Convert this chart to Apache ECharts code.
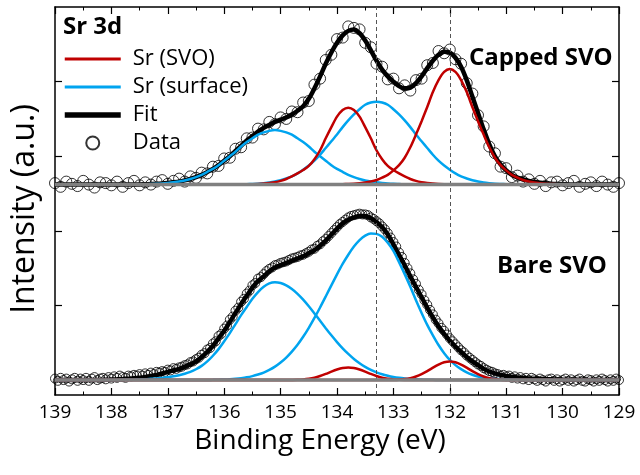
<!DOCTYPE html>
<html>
<head>
<meta charset="utf-8">
<script src="https://cdn.jsdelivr.net/npm/echarts@6/dist/echarts.min.js"></script>
<style>
  html, body { margin: 0; padding: 0; background: #fff; }
  #chart { width: 640px; height: 475px; }
</style>
</head>
<body>
<div id="chart"></div>
<script>
// Sr 3d XPS, capped vs bare SVO. Energies run 139 -> 129 eV.
const energyStart = 139;
const energyEnd = 129;
const curveStep = 0.1;      // fit + component curves
const cappedDataStep = 0.1;
const bareDataStep = 0.05;

// vertical offset of each spectrum (its grey background line)
const spectrumOffsets = [2.62, 0]; // capped, bare
const dashedEnergies = [133.3, 132.0];
const yTickValues = [0, 1, 2, 3, 4];

// ---- Capped SVO ----
const cappedSurface32 = [
  0,0,0,0,0,0,0,0,0,0,
  0,0,0,0,0.001,0.002,0.004,0.007,0.01,0.015,
  0.022,0.03,0.04,0.055,0.075,0.1,0.13,0.17,0.21,0.26,
  0.32,0.38,0.44,0.51,0.57,0.62,0.67,0.7,0.72,0.73,
  0.72,0.7,0.67,0.62,0.57,0.51,0.44,0.38,0.32,0.26,
  0.21,0.17,0.13,0.1,0.075,0.055,0.04,0.03,0.022,0.015,
  0.01,0.007,0.004,0.002,0.001,0,0,0,0,0,
  0,0,0,0,0,0,0,0,0,0,
  0,0,0,0,0,0,0,0,0,0,
  0,0,0,0,0,0,0,0,0,0,
  0
];
const cappedSurface52 = [
  0,0,0,0,0,0,0,0,0,0,
  0,0,0,0,0,0,0,0,0,0,
  0,0,0,0,0,0,0,0,0,0,
  0,0.001,0.002,0.003,0.005,0.008,0.012,0.019,0.028,0.041,
  0.058,0.082,0.11,0.15,0.2,0.255,0.32,0.4,0.49,0.58,
  0.67,0.77,0.86,0.94,1.01,1.07,1.1,1.11,1.1,1.07,
  1.01,0.94,0.86,0.77,0.67,0.58,0.49,0.4,0.32,0.255,
  0.2,0.15,0.11,0.082,0.058,0.041,0.028,0.019,0.012,0.008,
  0.005,0.003,0.002,0.001,0,0,0,0,0,0,
  0,0,0,0,0,0,0,0,0,0,
  0
];
const cappedSvo32 = [
  0,0,0,0,0,0,0,0,0,0,
  0,0,0,0,0,0,0,0,0,0,
  0,0,0,0,0,0,0,0,0,0,
  0,0,0.001,0.002,0.004,0.006,0.009,0.014,0.022,0.033,
  0.05,0.075,0.11,0.15,0.195,0.25,0.34,0.46,0.62,0.77,
  0.91,1.0,1.03,1.0,0.91,0.77,0.62,0.46,0.34,0.25,
  0.195,0.15,0.11,0.075,0.05,0.033,0.022,0.014,0.009,0.006,
  0.004,0.002,0.001,0,0,0,0,0,0,0,
  0,0,0,0,0,0,0,0,0,0,
  0,0,0,0,0,0,0,0,0,0,
  0
];
const cappedSvo52 = [
  0,0,0,0,0,0,0,0,0,0,
  0,0,0,0,0,0,0,0,0,0,
  0,0,0,0,0,0,0,0,0,0,
  0,0,0,0,0,0,0,0,0,0,
  0,0,0,0,0,0,0,0,0.001,0.002,
  0.003,0.005,0.008,0.012,0.019,0.028,0.042,0.062,0.093,0.13,
  0.19,0.26,0.36,0.5,0.67,0.85,1.04,1.24,1.4,1.51,
  1.55,1.51,1.4,1.24,1.04,0.85,0.67,0.5,0.36,0.26,
  0.19,0.13,0.093,0.062,0.042,0.028,0.019,0.012,0.008,0.005,
  0.003,0.002,0.001,0,0,0,0,0,0,0,
  0
];
const cappedFit = [
  0,0,0,0,0,0,0,0,0,0,
  0,0,0,0,0.001,0.002,0.004,0.007,0.01,0.015,
  0.022,0.03,0.04,0.056,0.076,0.1,0.13,0.17,0.21,0.26,
  0.32,0.38,0.45,0.52,0.59,0.65,0.71,0.76,0.8,0.84,
  0.87,0.9,0.94,0.99,1.05,1.15,1.29,1.45,1.62,1.77,
  1.9,2.0,2.06,2.08,2.03,1.93,1.8,1.66,1.54,1.45,
  1.38,1.32,1.29,1.3,1.36,1.45,1.56,1.66,1.74,1.78,
  1.77,1.7,1.58,1.4,1.18,0.96,0.74,0.54,0.38,0.27,
  0.19,0.13,0.095,0.068,0.05,0.036,0.026,0.018,0.012,0.008,
  0.005,0.003,0.002,0.001,0,0,0,0,0,0,
  0
];
const cappedData = [
  0.02,-0.03,0.04,0.01,-0.02,0.05,0,-0.04,0.03,0.02,
  -0.01,0.04,-0.03,0.02,0.05,-0.01,0.03,0,0.04,0.06,
  0.01,0.05,0.08,0.04,0.11,0.09,0.16,0.15,0.24,0.25,
  0.35,0.36,0.48,0.5,0.62,0.63,0.75,0.74,0.84,0.81,
  0.9,0.88,0.98,0.97,1.1,1.12,1.34,1.42,1.67,1.74,
  1.95,1.97,2.12,2.1,2.08,1.9,1.84,1.62,1.58,1.41,
  1.42,1.29,1.33,1.26,1.4,1.42,1.6,1.63,1.79,1.76,
  1.81,1.68,1.62,1.36,1.22,0.93,0.78,0.51,0.42,0.24,
  0.22,0.1,0.12,0.04,0.07,0.01,0.05,-0.02,0.03,0.04,
  -0.01,0.02,0.05,-0.03,0.01,0.03,-0.02,0.04,0,-0.03,
  0.02
];

// ---- Bare SVO ----
const bareSurface32 = [
  0,0,0,0,0,0,0,0,0,0,
  0.001,0.002,0.003,0.004,0.006,0.009,0.012,0.017,0.022,0.029,
  0.038,0.05,0.065,0.085,0.11,0.145,0.19,0.25,0.326,0.415,
  0.52,0.63,0.75,0.87,0.98,1.09,1.18,1.25,1.295,1.31,
  1.3,1.27,1.22,1.156,1.078,0.989,0.893,0.795,0.696,0.6,
  0.509,0.425,0.35,0.283,0.226,0.177,0.137,0.104,0.078,0.058,
  0.042,0.03,0.021,0.015,0.01,0.007,0.004,0.003,0.002,0.001,
  0,0,0,0,0,0,0,0,0,0,
  0,0,0,0,0,0,0,0,0,0,
  0,0,0,0,0,0,0,0,0,0,
  0
];
const bareSurface52 = [
  0,0,0,0,0,0,0,0,0,0,
  0,0,0,0,0,0,0,0,0,0,
  0,0,0,0,0,0,0.001,0.002,0.003,0.005,
  0.008,0.012,0.018,0.026,0.037,0.053,0.074,0.1,0.136,0.18,
  0.235,0.302,0.382,0.474,0.58,0.7,0.833,0.973,1.12,1.27,
  1.416,1.556,1.68,1.79,1.876,1.936,1.966,1.96,1.92,1.84,
  1.73,1.58,1.42,1.25,1.07,0.9,0.74,0.6,0.47,0.36,
  0.27,0.2,0.147,0.104,0.072,0.048,0.032,0.025,0.018,0.012,
  0.008,0.005,0.003,0.002,0.001,0,0,0,0,0,
  0,0,0,0,0,0,0,0,0,0,
  0
];
const bareSvo32 = [
  0,0,0,0,0,0,0,0,0,0,
  0,0,0,0,0,0,0,0,0,0,
  0,0,0,0,0,0,0,0,0,0,
  0,0,0,0,0,0,0,0,0,0,
  0,0.001,0.002,0.004,0.009,0.018,0.032,0.054,0.082,0.113,
  0.141,0.162,0.17,0.162,0.141,0.113,0.082,0.054,0.032,0.018,
  0.009,0.004,0.002,0.001,0,0,0,0,0,0,
  0,0,0,0,0,0,0,0,0,0,
  0,0,0,0,0,0,0,0,0,0,
  0,0,0,0,0,0,0,0,0,0,
  0
];
const bareSvo52 = [
  0,0,0,0,0,0,0,0,0,0,
  0,0,0,0,0,0,0,0,0,0,
  0,0,0,0,0,0,0,0,0,0,
  0,0,0,0,0,0,0,0,0,0,
  0,0,0,0,0,0,0,0,0,0,
  0,0,0,0,0,0,0,0,0,0.001,
  0.0025,0.006,0.013,0.026,0.048,0.079,0.12,0.166,0.208,0.239,
  0.25,0.239,0.208,0.166,0.12,0.079,0.048,0.026,0.013,0.006,
  0.0025,0.001,0,0,0,0,0,0,0,0,
  0,0,0,0,0,0,0,0,0,0,
  0
];
const bareFit = [
  0,0,0,0,0,0,0,0,0.002,0.004,
  0.007,0.01,0.014,0.019,0.025,0.033,0.043,0.055,0.07,0.088,
  0.11,0.13,0.15,0.18,0.21,0.25,0.31,0.38,0.46,0.56,
  0.66,0.78,0.9,1.02,1.13,1.24,1.33,1.39,1.46,1.51,
  1.54,1.57,1.6,1.63,1.66,1.7,1.74,1.8,1.87,1.95,
  2.03,2.1,2.15,2.18,2.2,2.2,2.17,2.12,2.05,1.95,
  1.82,1.68,1.54,1.39,1.25,1.11,0.97,0.84,0.72,0.62,
  0.53,0.45,0.38,0.31,0.25,0.2,0.15,0.115,0.09,0.07,
  0.055,0.045,0.035,0.028,0.022,0.018,0.015,0.012,0.01,0.008,
  0.006,0.005,0.004,0.003,0.003,0.002,0.002,0.001,0.001,0,
  0
];
const bareData = [
  0.02,-0.01,0.03,0,0.02,-0.02,0.01,0.03,-0.01,0.02,
  0,0.03,-0.01,0.02,0.04,0,0.02,0.03,0.01,0.04,
  0.02,0.05,0.03,0.06,0.04,0.03,0.06,0.05,0.07,0.06,
  0.08,0.06,0.09,0.07,0.1,0.08,0.11,0.1,0.12,0.11,
  0.14,0.13,0.16,0.15,0.17,0.18,0.2,0.21,0.24,0.25,
  0.28,0.3,0.34,0.36,0.41,0.43,0.49,0.52,0.59,0.62,
  0.69,0.73,0.81,0.85,0.93,0.97,1.05,1.09,1.16,1.2,
  1.27,1.3,1.36,1.38,1.42,1.46,1.49,1.51,1.54,1.55,
  1.57,1.58,1.59,1.61,1.63,1.64,1.65,1.67,1.68,1.7,
  1.72,1.75,1.76,1.8,1.82,1.86,1.89,1.93,1.97,2.01,
  2.05,2.09,2.12,2.15,2.18,2.2,2.21,2.22,2.23,2.22,
  2.22,2.21,2.18,2.16,2.13,2.1,2.06,2.02,1.97,1.91,
  1.85,1.79,1.71,1.65,1.57,1.5,1.43,1.35,1.29,1.21,
  1.15,1.07,1.01,0.94,0.88,0.81,0.76,0.7,0.66,0.61,
  0.56,0.52,0.48,0.44,0.4,0.37,0.33,0.3,0.27,0.24,
  0.21,0.19,0.16,0.14,0.12,0.11,0.09,0.08,0.06,0.07,
  0.05,0.06,0.03,0.05,0.02,0.04,0.01,0.03,0,0.03,
  0.01,-0.01,0.02,0,-0.02,0.01,0.02,-0.01,0.01,-0.02,
  0,0.02,-0.01,0.01,-0.02,0,0.02,-0.01,-0.02,0.01,
  0,-0.02,0.01,-0.01,0.02,0,-0.02,0.01,-0.01,0.02,
  0
];

const FONT = "'Open Sans', 'Noto Sans', sans-serif";
const RED = '#c00000';
const BLUE = '#00a4ef';
const GRAY = '#808080';

const [cappedOffset, bareOffset] = spectrumOffsets;

// turn a list of intensities into [energy, intensity] pairs
function toPairs(values, step, offset) {
  return values.map((v, i) => [+(energyStart - i * step).toFixed(3), v + offset]);
}

function curve(name, values, offset, color, width, z) {
  return {
    type: 'line',
    name: name,
    data: toPairs(values, curveStep, offset),
    symbol: 'none',
    smooth: 0.3,
    lineStyle: { color: color, width: width },
    itemStyle: { color: color },
    z: z,
    silent: true,
  };
}

function dataSeries(values, step, offset, size) {
  return {
    type: 'scatter',
    name: 'Data',
    data: toPairs(values, step, offset),
    symbol: 'circle',
    symbolSize: size,
    itemStyle: { color: 'rgba(0,0,0,0)', borderColor: '#000', borderWidth: 1 },
    z: 1,
    silent: true,
  };
}

function baseline(offset) {
  return {
    type: 'line',
    name: 'background',
    data: [[energyStart, offset], [energyEnd, offset]],
    symbol: 'none',
    lineStyle: { color: GRAY, width: 3.5 },
    z: 6,
    silent: true,
  };
}

const tickStyle = { inside: true, length: 7, lineStyle: { color: '#000', width: 1.2 } };
const lineStyleAxis = { show: true, onZero: false, lineStyle: { color: '#000', width: 1.5 } };
// line entries in the legend: show the stroke only, no marker dot
const noDot = { color: 'rgba(0,0,0,0)', borderWidth: 0 };

const option = {
  animation: false,
  backgroundColor: '#fff',
  textStyle: { fontFamily: FONT },
  grid: { left: 55, right: 21, top: 7, bottom: 80 },
  title: {
    text: 'Sr 3d',
    left: 63, top: 15, padding: 0,
    textStyle: { fontFamily: FONT, fontSize: 24, fontWeight: 'bold', color: '#000' },
  },
  legend: {
    data: [
      { name: 'Sr (SVO)', itemStyle: noDot, lineStyle: { width: 3 } },
      { name: 'Sr (surface)', itemStyle: noDot, lineStyle: { width: 3 } },
      { name: 'Fit', itemStyle: noDot, lineStyle: { width: 5.5 } },
      { name: 'Data' },
    ],
    orient: 'vertical',
    left: 62, top: 48, padding: 0,
    itemWidth: 56, itemHeight: 13, itemGap: 6,
    selectedMode: false,
    textStyle: { fontFamily: FONT, fontSize: 22, color: '#000', padding: [0, 0, 0, 7] },
  },
  xAxis: [
    {
      type: 'value', position: 'bottom',
      min: energyEnd, max: energyStart, interval: 1, inverse: true,
      axisLine: lineStyleAxis,
      axisTick: tickStyle,
      minorTick: { show: true, splitNumber: 2, length: 3.5, lineStyle: { color: '#000', width: 1 } },
      axisLabel: { fontFamily: FONT, fontSize: 19, color: '#000', margin: 8 },
      splitLine: { show: false },
      name: 'Binding Energy (eV)', nameLocation: 'middle', nameGap: 29,
      nameTextStyle: { fontFamily: FONT, fontSize: 28, color: '#000', padding: [0, 34, 0, 0] },
    },
    {
      type: 'value', position: 'top',
      min: energyEnd, max: energyStart, interval: 1, inverse: true,
      axisLine: lineStyleAxis,
      axisTick: tickStyle,
      minorTick: { show: true, splitNumber: 2, length: 3.5, lineStyle: { color: '#000', width: 1 } },
      axisLabel: { show: false },
      splitLine: { show: false },
    },
  ],
  yAxis: [
    {
      type: 'value', position: 'left', min: -0.2, max: 5,
      axisLine: lineStyleAxis,
      axisTick: Object.assign({ customValues: yTickValues }, tickStyle),
      axisLabel: { show: false },
      splitLine: { show: false },
      name: 'Intensity (a.u.)', nameLocation: 'middle', nameGap: 14,
      nameTextStyle: { fontFamily: FONT, fontSize: 32, color: '#000', padding: [0, 16, 0, 0] },
    },
    {
      type: 'value', position: 'right', min: -0.2, max: 5,
      axisLine: lineStyleAxis,
      axisTick: Object.assign({ customValues: yTickValues }, tickStyle),
      axisLabel: { show: false },
      splitLine: { show: false },
    },
  ],
  graphic: [
    { type: 'text', left: 469, top: 46, style: { text: 'Capped SVO', font: 'bold 24px ' + FONT, fill: '#000' } },
    { type: 'text', left: 497, top: 254, style: { text: 'Bare SVO', font: 'bold 24px ' + FONT, fill: '#000' } },
  ],
  series: [
    dataSeries(cappedData, cappedDataStep, cappedOffset, 11),
    dataSeries(bareData, bareDataStep, bareOffset, 9),
    Object.assign(curve('Fit', cappedFit, cappedOffset, '#000', 4.5, 2), {
      markLine: {
        silent: true, symbol: ['none', 'none'], label: { show: false },
        lineStyle: { color: '#555', width: 1, type: [4, 3] },
        data: dashedEnergies.map(e => ({ xAxis: e })),
      },
    }),
    curve('Fit', bareFit, bareOffset, '#000', 4.5, 2),
    curve('Sr (surface)', cappedSurface32, cappedOffset, BLUE, 2.5, 3),
    curve('Sr (surface)', cappedSurface52, cappedOffset, BLUE, 2.5, 3),
    curve('Sr (surface)', bareSurface32, bareOffset, BLUE, 2.5, 3),
    curve('Sr (surface)', bareSurface52, bareOffset, BLUE, 2.5, 3),
    curve('Sr (SVO)', cappedSvo32, cappedOffset, RED, 2.5, 4),
    curve('Sr (SVO)', cappedSvo52, cappedOffset, RED, 2.5, 4),
    curve('Sr (SVO)', bareSvo32, bareOffset, RED, 2.5, 4),
    curve('Sr (SVO)', bareSvo52, bareOffset, RED, 2.5, 4),
    baseline(cappedOffset),
    baseline(bareOffset),
  ],
};

const chart = echarts.init(document.getElementById('chart'));
chart.setOption(option);
</script>
</body>
</html>
